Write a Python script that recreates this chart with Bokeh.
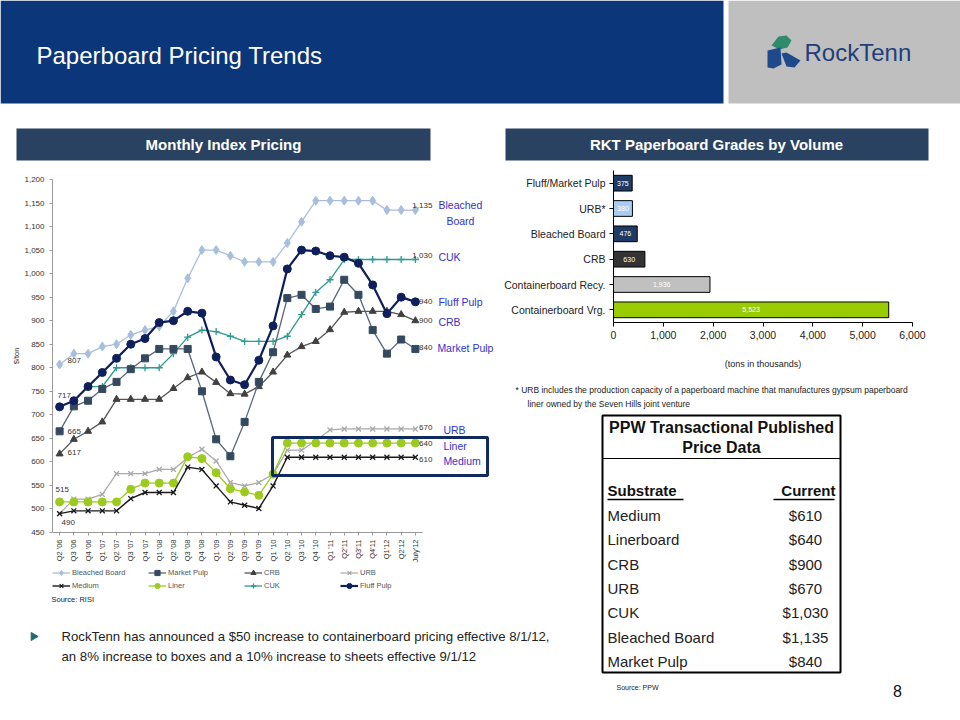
import math
from bokeh.plotting import figure
from bokeh.models import (Range1d, FactorRange, ColumnDataSource, LabelSet, Label, Legend,
                          LegendItem, NumeralTickFormatter, SingleIntervalTicker, BoxAnnotation,
                          GridBox, FixedTicker)
from bokeh.embed import file_html
from bokeh.resources import INLINE
from bokeh.core.properties import value

FONT = "Liberation Sans"

# ---------------- data ----------------
quarters = ["Q2 '06", "Q3 '06", "Q4 '06", "Q1 '07", "Q2 '07", "Q3 '07", "Q4 '07", "Q1 '08",
            "Q2 '08", "Q3 '08", "Q4 '08", "Q1 '09", "Q2 '09", "Q3 '09", "Q4 '09", "Q1 '10",
            "Q2 '10", "Q3 '10", "Q4 '10", "Q1 '11", "Q2'11", "Q3'11", "Q4'11", "Q1'12",
            "Q2'12", "July'12"]

bleached_board = [807, 830, 830, 845, 850, 870, 880, 888, 920, 990, 1050, 1050, 1038, 1025,
                  1025, 1025, 1065, 1110, 1155, 1155, 1155, 1155, 1155, 1135, 1135, 1135]
market_pulp = [665, 718, 730, 755, 770, 797, 820, 840, 840, 840, 750, 648, 612, 685, 770, 833,
               948, 955, 925, 930, 987, 955, 880, 830, 860, 840]
crb = [617, 648, 665, 685, 733, 733, 733, 733, 756, 779, 791, 769, 745, 744, 760, 791, 827,
       845, 856, 881, 918, 920, 920, 920, 913, 900]
urb = [490, 521, 521, 531, 575, 575, 575, 584, 584, 609, 627, 602, 556, 549, 556, 574, 625,
       625, 645, 668, 670, 670, 670, 670, 670, 670]
medium = [490, 496, 496, 496, 496, 522, 535, 535, 535, 589, 584, 549, 515, 508, 501, 549, 610,
          610, 610, 610, 610, 610, 610, 610, 610, 610]
liner = [515, 515, 515, 515, 515, 542, 555, 555, 555, 611, 607, 577, 543, 536, 529, 574, 640,
         640, 640, 640, 640, 640, 640, 640, 640, 640]
cuk_start = 2  # CUK series begins at Q4 '06
cuk = [760, 760, 800, 800, 800, 800, 830, 865, 880, 877, 867, 856, 856, 856, 867, 913, 960,
       987, 1030, 1030, 1030, 1030, 1030, 1030]
fluff_pulp = [717, 730, 760, 790, 820, 850, 862, 896, 900, 920, 916, 823, 774, 764, 816, 889,
              1010, 1050, 1048, 1038, 1035, 1022, 976, 915, 950, 940]

bar_cats = ["Fluff/Market Pulp", "URB*", "Bleached Board", "CRB", "Containerboard Recy.",
            "Containerboard Vrg."]
bar_vals = [375, 380, 476, 630, 1936, 5523]

substrates = ["Medium", "Linerboard", "CRB", "URB", "CUK", "Bleached Board", "Market Pulp"]
prices = [610, 640, 900, 670, 1030, 1135, 840]

# ---------------- styles ----------------
bar_colors = ["#1F3A63", "#A9CDF2", "#1F3A63", "#333333", "#C0C0C0", "#99CC00"]
BAND = "#2A4262"
BLUE_LBL = "#3232CC"


def no_align(f):
    try:
        f.frame_align = False
    except Exception:
        pass
    return f


def blank_fig(w, h, xr, yr):
    f = figure(width=w, height=h, x_range=Range1d(*xr), y_range=Range1d(*yr),
               x_axis_type=None, y_axis_type=None, output_backend="svg",
               toolbar_location=None, min_border=0, outline_line_color=None,
               background_fill_color="white", border_fill_color="white")
    f.grid.visible = False
    return no_align(f)


# ---------------- header ----------------
hdr = blank_fig(960, 165, (0, 960), (165, 0))
hdr.quad(left=[0, 728, 16, 505], right=[723, 960, 430, 928], top=[0, 0, 128, 128],
         bottom=[103, 103, 160, 160], fill_color=["#0B3679", "#BFBFBF", BAND, BAND],
         line_color=None)
hdr.text(x=[36], y=[55], text=["Paperboard Pricing Trends"], text_color="white",
         text_font=value(FONT), text_font_size="24px", text_baseline="middle")
hdr.text(x=[223, 716], y=[144, 144], text=["Monthly Index Pricing", "RKT Paperboard Grades by Volume"],
         text_color="white", text_font=value(FONT), text_font_size="15px",
         text_font_style="bold", text_align="center", text_baseline="middle")
# logo
hdr.patch(x=[771, 778, 786, 791, 787, 779], y=[45, 36, 35, 40, 47, 49], fill_color="#2E8B6E",
          line_color=None)
hdr.patch(x=[767, 780, 781, 773, 767], y=[50, 47, 64, 68, 67], fill_color="#1E4A8C",
          line_color=None)
hdr.patch(x=[781, 786, 800, 794, 786], y=[53, 52, 60, 67, 66], fill_color="#1E4A8C",
          line_color=None)
hdr.text(x=[804], y=[52], text=["RockTenn"], text_color="#1F3F7A", text_font=value(FONT),
         text_font_size="24px", text_baseline="middle")

# ---------------- line chart ----------------
xi = list(range(len(quarters)))
lc = figure(width=497, height=400, x_range=Range1d(-0.5, 30.77), y_range=Range1d(450, 1200),
            output_backend="svg", toolbar_location=None,
            min_border_left=52, min_border_right=0, min_border_top=14, min_border_bottom=33,
            outline_line_color=None, background_fill_color="white", border_fill_color="white")
no_align(lc)
lc.grid.visible = False

series = [
    ("Bleached Board", xi, bleached_board, "#A7BFDD", "#A7BFDD", "diamond", 9, 1.3),
    ("URB", xi, urb, "#A8A8A8", "#A8A8A8", "x", 7, 1.2),
    ("Liner", xi, liner, "#9CCB1E", "#9CCB1E", "circle", 8, 1.3),
    ("Medium", xi, medium, "#1A1A1A", "#1A1A1A", "x", 7, 1.4),
    ("CUK", xi[cuk_start:], cuk, "#2F9A90", "#2F9A90", "cross", 7, 1.3),
    ("CRB", xi, crb, "#555555", "#404040", "triangle", 7, 1.3),
    ("Market Pulp", xi, market_pulp, "#56677C", "#34495F", "square", 7, 1.3),
    ("Fluff Pulp", xi, fluff_pulp, "#0F1F5C", "#0F1F5C", "circle", 8, 2.2),
]
for name, xs, ys, lcol, mcol, mk, sz, lw in series:
    lc.line(xs, ys, line_color=lcol, line_width=lw)
    lc.scatter(xs, ys, marker=mk, size=sz, fill_color=mcol, line_color=mcol,
               line_width=1.3 if mk in ("x", "cross") else 1)

lc.xaxis.ticker = FixedTicker(ticks=xi)
lc.xaxis.major_label_overrides = {i: q for i, q in enumerate(quarters)}
lc.xaxis.bounds = (-0.5, 25.5)
lc.yaxis.ticker = SingleIntervalTicker(interval=50)
lc.yaxis.formatter = NumeralTickFormatter(format="0,0")
for ax in (lc.xaxis, lc.yaxis):
    ax.axis_line_color = "#9A9A9A"
    ax.major_tick_line_color = "#9A9A9A"
    ax.minor_tick_line_color = None
    ax.major_tick_in = 0
    ax.major_tick_out = 3
    ax.major_label_text_font = FONT
    ax.major_label_text_color = "#333333"
lc.yaxis.major_label_text_font_size = "8px"
lc.yaxis.major_label_standoff = 4
lc.yaxis.axis_label = "$/ton"
lc.yaxis.axis_label_text_font = FONT
lc.yaxis.axis_label_text_font_size = "7.5px"
lc.yaxis.axis_label_text_font_style = "normal"
lc.yaxis.axis_label_text_color = "#333333"
lc.yaxis.axis_label_standoff = 0
lc.xaxis.major_label_text_font_size = "7.5px"
lc.xaxis.major_label_orientation = math.pi / 2
lc.xaxis.major_label_standoff = 4

# start labels
start_lbls = [(bleached_board[0], 8, 3.5), (fluff_pulp[0], -2, 11.5), (market_pulp[0], 8, 0),
              (crb[0], 8, 1), (liner[0], -4, 12), (medium[0], 2, -9)]
for v, dx, dy in start_lbls:
    lc.add_layout(Label(x=xi[0], y=v, x_offset=dx, y_offset=dy, text=f"{v:,}",
                        text_font=FONT, text_font_size="8px", text_color="#333333",
                        text_baseline="middle", text_align="left"))

# end labels (numbers)
end_vals = [bleached_board[-1], cuk[-1], fluff_pulp[-1], crb[-1], market_pulp[-1], urb[-1],
            liner[-1], medium[-1]]
end_dy = [4.5, 4.5, 0, 0, 1, 1, 0, -2]
lc.add_layout(LabelSet(source=ColumnDataSource(dict(
    x=[xi[-1]] * len(end_vals), y=end_vals, t=[f"{v:,}" for v in end_vals], dy=end_dy)),
    x="x", y="y", text="t", x_offset=17, y_offset="dy", text_font=value(FONT),
    text_font_size="8px", text_color="#333333", text_align="right", text_baseline="middle"))

# series names
names = ["Bleached", "Board", "CUK", "Fluff Pulp", "CRB", "Market Pulp", "URB", "Liner", "Medium"]
name_y = [bleached_board[-1], bleached_board[-1], cuk[-1], fluff_pulp[-1], crb[-1],
          market_pulp[-1], urb[-1], liner[-1], medium[-1]]
name_dx = [45, 45, 23, 23, 23, 22, 28, 28, 28]
name_dy = [5, -11, 3, 0, -1, 1, -1, -3, -4]
name_al = ["center", "center", "left", "left", "left", "left", "left", "left", "left"]
lc.add_layout(LabelSet(source=ColumnDataSource(dict(
    x=[xi[-1]] * len(names), y=name_y, t=names, dx=name_dx, dy=name_dy, al=name_al)),
    x="x", y="y", text="t", x_offset="dx", y_offset="dy", text_align="al",
    text_font=value(FONT), text_font_size="10.5px", text_color=BLUE_LBL,
    text_baseline="middle"))

# highlight box
lc.add_layout(BoxAnnotation(left=14.96, right=30.07, top=652, bottom=571, fill_alpha=0,
                            line_color="#0F2A5E", line_alpha=1, line_width=3))

# ---------------- line chart legend (own strip; series lie outside its view) ----------------
lg = blank_fig(497, 45, (0, 497), (45, 0))
rend = {}
for name, xs, ys, lcol, mcol, mk, sz, lw in series:
    r1 = lg.line(xs, ys, line_color=lcol, line_width=lw)
    r2 = lg.scatter(xs, ys, marker=mk, size=sz, fill_color=mcol, line_color=mcol,
                    line_width=1.3 if mk in ("x", "cross") else 1)
    rend[name] = [r1, r2]
legend_order = ["Bleached Board", "Market Pulp", "CRB", "URB", "Medium", "Liner", "CUK",
                "Fluff Pulp"]
legend = Legend(items=[LegendItem(label=n, renderers=rend[n]) for n in legend_order],
                location=(52, 18), orientation="horizontal", ncols=4,
                label_text_font=FONT, label_text_font_size="7.5px", label_text_color="#555555",
                glyph_width=18, glyph_height=13, label_height=13, label_width=76,
                label_standoff=2, spacing=0, padding=0, margin=0, border_line_color=None,
                background_fill_alpha=0)
lg.add_layout(legend)
lg.text(x=[51], y=[34], text=["Source:  RISI"], text_font=value(FONT),
        text_font_size="7.5px", text_color="#222222", text_baseline="middle")

# ---------------- bar chart ----------------
bc = figure(width=463, height=215, x_range=Range1d(0, 6000),
            y_range=FactorRange(factors=bar_cats[::-1]), output_backend="svg",
            toolbar_location=None, min_border_left=116, min_border_right=48, min_border_top=5,
            min_border_bottom=58, outline_line_color=None, background_fill_color="white",
            border_fill_color="white")
no_align(bc)
bc.grid.visible = False
bsrc = ColumnDataSource(dict(cat=bar_cats, val=bar_vals, col=bar_colors,
                             mid=[v / 2 for v in bar_vals], lbl=[f"{v:,}" for v in bar_vals]))
bc.hbar(y="cat", right="val", left=0, height=0.62, fill_color="col", line_color="black",
        line_width=1, source=bsrc)
bc.add_layout(LabelSet(source=bsrc, x="mid", y="cat", text="lbl", text_font=value(FONT),
                       text_font_size="7px", text_color="white", text_align="center",
                       text_baseline="middle"))
bc.xaxis.ticker = SingleIntervalTicker(interval=1000)
bc.xaxis.formatter = NumeralTickFormatter(format="0,0")
for ax in (bc.xaxis, bc.yaxis):
    ax.axis_line_color = "black"
    ax.major_tick_line_color = "black"
    ax.minor_tick_line_color = None
    ax.major_tick_in = 0
    ax.major_tick_out = 4
    ax.major_label_text_font = FONT
    ax.major_label_text_font_size = "10.5px"
    ax.major_label_text_color = "#222222"
    ax.major_label_standoff = 4
bc.xaxis.axis_label = "(tons in thousands)"
bc.xaxis.axis_label_text_font = FONT
bc.xaxis.axis_label_text_font_size = "9px"
bc.xaxis.axis_label_text_font_style = "normal"
bc.xaxis.axis_label_text_color = "#222222"
bc.xaxis.axis_label_standoff = 17

# footnote strip
fn = blank_fig(463, 30, (497, 960), (410, 380))
fn.text(x=[515, 527], y=[389, 403],
        text=["* URB includes the production capacity of a paperboard machine that manufactures gypsum paperboard",
              "liner owned by the Seven Hills joint venture"],
        text_font=value(FONT), text_font_size="8.5px", text_color="#222222",
        text_baseline="middle")

# ---------------- table ----------------
tab = blank_fig(400, 306, (560, 960), (716, 410))
tab.quad(left=[602], right=[840], top=[415], bottom=[672], fill_color=None, line_color="black",
         line_width=2)
tab.segment(x0=[602, 607, 773], y0=[458, 499, 499], x1=[840, 683, 834], y1=[458, 499, 499],
            line_color="black", line_width=[1, 1.3, 1.3])
tab.text(x=[721, 721], y=[427, 447], text=["PPW Transactional Published", "Price Data"],
         text_font=value(FONT), text_font_size="16px", text_font_style="bold",
         text_align="center", text_baseline="middle", text_color="#111111")
tab.text(x=[607], y=[490], text=["Substrate"], text_font=value(FONT), text_font_size="15px",
         text_font_style="bold", text_baseline="middle", text_color="#111111")
tab.text(x=[835], y=[490], text=["Current"], text_font=value(FONT), text_font_size="15px",
         text_font_style="bold", text_align="right", text_baseline="middle",
         text_color="#111111")
row_y = [515 + 24.35 * i for i in range(len(substrates))]
tab.text(x=[607] * len(substrates), y=row_y, text=substrates, text_font=value(FONT),
         text_font_size="15px", text_baseline="middle", text_color="#222222")
tab.text(x=[805] * len(prices), y=row_y, text=[f"${p:,}" for p in prices],
         text_font=value(FONT), text_font_size="15px", text_align="center",
         text_baseline="middle", text_color="#222222")
tab.text(x=[616], y=[687], text=["Source:  PPW"], text_font=value(FONT), text_font_size="7px",
         text_baseline="middle", text_color="#222222")
tab.text(x=[897], y=[690], text=["8"], text_font=value(FONT), text_font_size="16px",
         text_align="center", text_baseline="middle", text_color="#111111")

# ---------------- bullet ----------------
bul = blank_fig(560, 106, (0, 560), (716, 610))
bul.scatter(x=[33], y=[636], marker="triangle", size=8, angle=-math.pi / 2,
            fill_color="#1F6B73", line_color="#1F6B73")
bul.text(x=[61, 61], y=[636, 656],
         text=["RockTenn has announced  a $50 increase to containerboard  pricing effective 8/1/12,",
               "an 8% increase to boxes and  a 10% increase to sheets effective 9/1/12"],
         text_font=value(FONT), text_font_size="13.2px", text_baseline="middle",
         text_color="#222222")

grid = GridBox(children=[(hdr, 0, 0, 1, 3), (lc, 1, 0, 3, 1), (lg, 4, 0, 1, 1),
                         (bc, 1, 1, 1, 2), (fn, 2, 1, 1, 2), (tab, 3, 2, 3, 1),
                         (bul, 5, 0, 1, 2)],
               rows=["165px", "215px", "30px", "155px", "45px", "106px"],
               cols=["497px", "63px", "400px"], spacing=0)

open("out.html", "w").write(file_html(grid, INLINE))
